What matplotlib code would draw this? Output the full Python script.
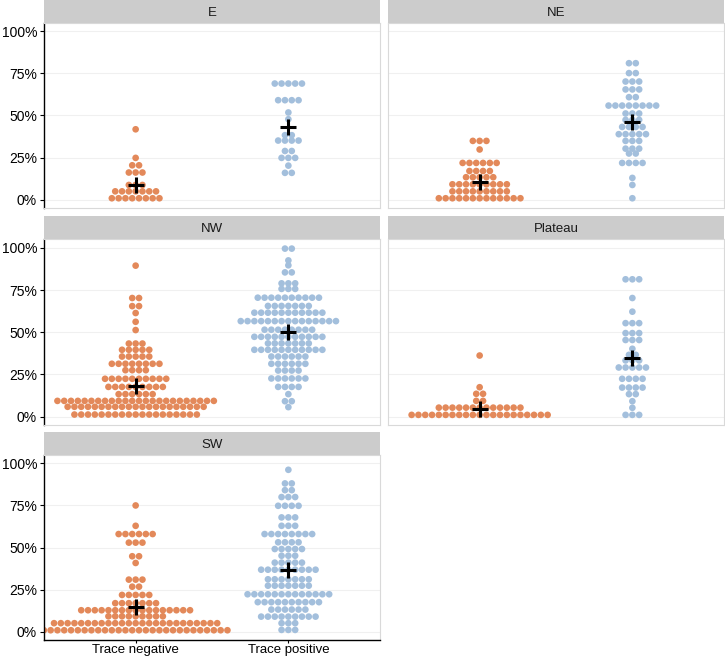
import matplotlib
matplotlib.use("Agg")
import matplotlib.pyplot as plt
import numpy as np

plt.rcParams['font.family'] = ['Liberation Sans', 'DejaVu Sans']

groups = ["Trace negative", "Trace positive"]
regions = ["E", "NE", "NW", "Plateau", "SW"]
y_ticks = [0, 25, 50, 75, 100]
y_tick_labels = ["0%", "25%", "50%", "75%", "100%"]

# each swarm: row levels (percent) and number of dots in the row
e_neg_pct = [0.8, 4.9, 8.7, 16.1, 20.4, 24.8, 41.8]
e_neg_n = [8, 7, 3, 3, 2, 1, 1]
e_pos_pct = [15.9, 20.2, 24.8, 28.9, 35.1, 38.3, 47.8, 51.8, 59.1, 69.0]
e_pos_n = [2, 1, 3, 2, 4, 2, 1, 1, 4, 5]

ne_neg_pct = [0.8, 4.9, 9.1, 13.3, 17.0, 21.8, 29.8, 34.9]
ne_neg_n = [13, 9, 9, 5, 4, 6, 1, 3]
ne_pos_pct = [0.8, 8.7, 12.9, 21.8, 27.4, 30.3, 34.9, 38.9, 43.2, 47.4,
              51.2, 55.9, 60.9, 65.5, 70.2, 75.2, 81.1]
ne_pos_n = [1, 1, 1, 4, 2, 3, 3, 5, 4, 3, 3, 8, 2, 3, 3, 2, 2]

nw_neg_pct = [1.2, 5.8, 9.3, 13.3, 17.6, 22.4, 27.5, 31.3, 35.6, 39.6, 43.3,
              51.3, 56.2, 61.4, 65.5, 70.3, 89.5]
nw_neg_n = [19, 21, 24, 6, 9, 10, 4, 8, 5, 5, 3, 1, 1, 1, 2, 2, 1]
nw_pos_pct = [5.6, 9.1, 13.3, 17.6, 22.6, 27.3, 31.3, 35.6, 39.6, 43.4, 47.3,
              51.5, 56.6, 61.6, 65.6, 70.5, 75.7, 79.0, 85.5, 89.7, 92.6, 99.6]
nw_pos_n = [1, 2, 1, 4, 6, 4, 6, 6, 11, 7, 11, 8, 15, 11, 7, 10, 3, 3, 2, 1, 1, 2]

pl_neg_pct = [1.0, 5.3, 9.3, 13.5, 17.4, 36.2]
pl_neg_n = [21, 13, 2, 2, 1, 1]
pl_pos_pct = [1.0, 5.2, 9.1, 13.3, 17.2, 22.4, 29.1, 33.3, 36.6, 40.2, 45.4,
              49.5, 55.4, 62.2, 70.3, 81.4]
pl_pos_n = [3, 1, 1, 2, 4, 4, 5, 3, 2, 1, 3, 3, 3, 1, 1, 3]

sw_neg_pct = [0.8, 5.0, 9.1, 12.7, 16.9, 21.8, 26.7, 30.9, 40.8, 44.8, 52.9,
              58.0, 62.9, 75.0]
sw_neg_n = [28, 25, 9, 17, 7, 5, 2, 3, 1, 2, 3, 6, 1, 1]
sw_pos_pct = [1.0, 5.0, 8.9, 13.1, 17.5, 22.2, 27.3, 31.1, 36.8, 41.0, 45.1,
              49.1, 53.1, 58.0, 62.9, 67.9, 74.8, 80.0, 84.1, 88.1, 96.2]
sw_pos_n = [3, 3, 9, 6, 10, 13, 7, 7, 9, 5, 3, 5, 4, 8, 3, 3, 4, 3, 2, 2, 1]

swarms = {
    "E": [(e_neg_pct, e_neg_n), (e_pos_pct, e_pos_n)],
    "NE": [(ne_neg_pct, ne_neg_n), (ne_pos_pct, ne_pos_n)],
    "NW": [(nw_neg_pct, nw_neg_n), (nw_pos_pct, nw_pos_n)],
    "Plateau": [(pl_neg_pct, pl_neg_n), (pl_pos_pct, pl_pos_n)],
    "SW": [(sw_neg_pct, sw_neg_n), (sw_pos_pct, sw_pos_n)],
}

colors = ["#E3895A", "#A3BFDC"]

W, H = 725, 660
fig = plt.figure(figsize=(W / 100, H / 100), dpi=100)

cols_px = [(44, 380), (388, 724)]
rows_px = [(23, 208), (239.5, 425), (455, 640)]
strip_h = 23

xlim = (0.4, 2.6)
dot_px = 6.8
dx = dot_px / ((cols_px[0][1] - cols_px[0][0]) / (xlim[1] - xlim[0]))

for k, reg in enumerate(regions):
    r, c = divmod(k, 2)
    x0, x1 = cols_px[c]
    t, b = rows_px[r]
    ax = fig.add_axes([x0 / W, 1 - b / H, (x1 - x0) / W, (b - t) / H])
    sax = fig.add_axes([x0 / W, 1 - t / H, (x1 - x0) / W, strip_h / H])
    sax.set_facecolor("#CCCCCC")
    sax.set_xticks([])
    sax.set_yticks([])
    for s in sax.spines.values():
        s.set_visible(False)
    sax.text(0.5, 0.45, reg, ha="center", va="center", fontsize=9.5, color="#1A1A1A",
             transform=sax.transAxes)

    for g, (pct, n) in enumerate(swarms[reg]):
        xc = g + 1
        xs, ys = [], []
        for v, cnt in zip(pct, n):
            for i in range(cnt):
                xs.append(xc + (i - (cnt - 1) / 2) * dx)
                ys.append(v)
        ax.scatter(xs, ys, s=23, color=colors[g], edgecolors="none", zorder=2)
        mean = np.average(pct, weights=n)
        ax.plot(xc, mean, marker="+", ms=12, mew=2.2, color="black", zorder=3)

    ax.set_xlim(*xlim)
    ax.set_ylim(-5, 105)
    ax.set_yticks(y_ticks)
    ax.set_xticks([1, 2])
    ax.yaxis.grid(True, color="#F0F0F0", lw=0.8, zorder=0)
    ax.set_axisbelow(True)
    for s in ax.spines.values():
        s.set_color("#D9D9D9")
        s.set_linewidth(0.8)

    if c == 0:
        ax.set_yticklabels(y_tick_labels)
        ax.spines["left"].set_color("black")
        ax.spines["left"].set_linewidth(1.0)
        ax.tick_params(axis="y", length=3, width=0.8, labelsize=10, pad=2)
    else:
        ax.tick_params(axis="y", left=False, labelleft=False)

    if reg == "SW":
        ax.set_xticklabels(groups)
        ax.spines["bottom"].set_color("black")
        ax.spines["bottom"].set_linewidth(1.0)
        ax.tick_params(axis="x", length=2, width=0.8, labelsize=9.5, pad=1)
    else:
        ax.tick_params(axis="x", bottom=False, labelbottom=False)

fig.savefig("out.png", dpi=100)
